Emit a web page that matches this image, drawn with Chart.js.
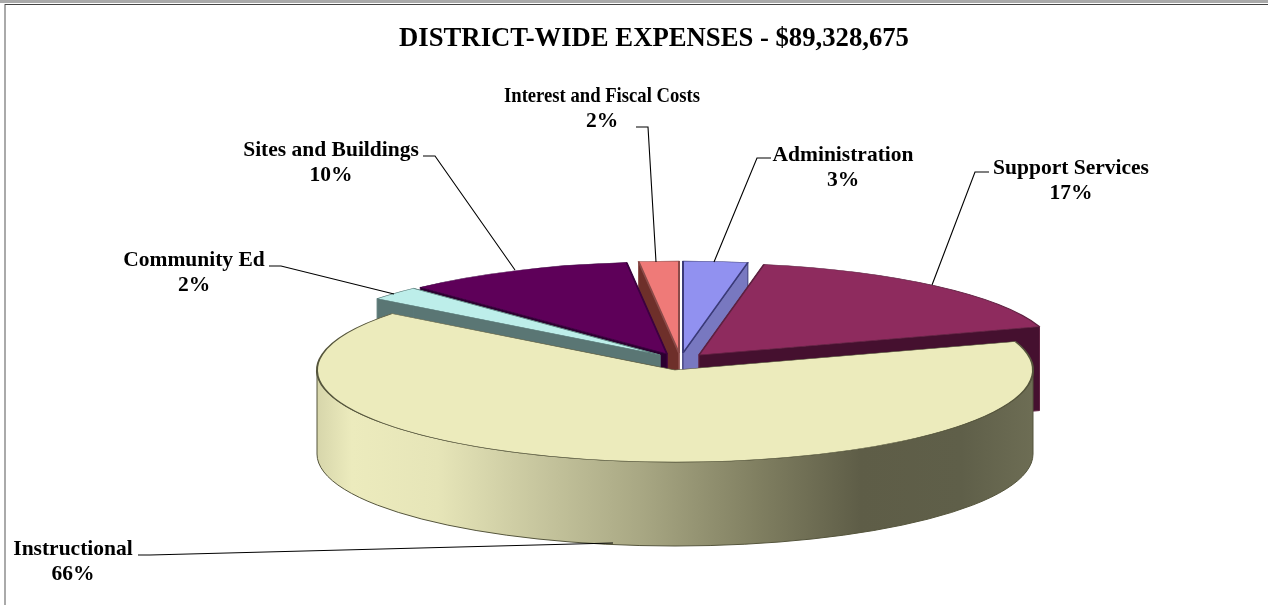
<!DOCTYPE html>
<html><head><meta charset="utf-8">
<style>html,body{margin:0;padding:0;background:#fff}canvas{display:block}</style>
<script src="https://cdn.jsdelivr.net/npm/chart.js@4/dist/chart.umd.min.js"></script>
</head><body><canvas id="c" width="1268" height="605"></canvas>
<script>
const titleText = 'DISTRICT-WIDE EXPENSES - $89,328,675';
const categories = ['Administration','Support Services','Instructional','Community Ed','Sites and Buildings','Interest and Fiscal Costs'];
const shares = [2.9,17.1,65.5,2.4,10.3,1.8];
const faceColors = ['#9191f0','#8e2b5e','#ecebbc','#bdeeea','#5e0059','#ef7a78'];
const wallColors = ['#7878c0','#45102f','#ecebbc','#5a7674','#2c0030','#6e2f2a'];
const edgeColors = ['#3a3a78','#5e2040','#55553c','#5a7a78','#3c0040','#8a4a48'];

// 3-D presentation constants (tilted ellipse, exploded slice hubs)
const RX = 358, RY = 92, DEPTH = 84;
const hubX = [683,699,675,660,667,679];
const hubY = [353,355,370,355,354,353];
const drawOrder = [5,0,1,4,3,2];
const labelCenterX = [843,1071,73,194,331,602];
const labelY = [155,168,549,260,150,96];
const labelMaxW = [142,157,121,143,179,196];
const leaders = [
  [[771,158],[757,158],[714,262]],
  [[989,172],[975,172],[932,285]],
  [[138,555],[150,555],[613,543]],
  [[269,266],[281,266],[394,294]],
  [[423,156],[435,156],[515,270]],
  [[636,127],[648,127],[656,262]]
];

const pie3d = {
  id:'pie3d',
  beforeDatasetsDraw(chart){
    const ctx = chart.ctx, arcs = chart.getDatasetMeta(0).data;
    const wallGrad = ctx.createLinearGradient(316,0,1033,0);
    [[0,'#d6d5aa'],[0.05,'#ecebbd'],[0.17,'#e6e5b8'],[0.30,'#c9c8a0'],[0.45,'#a9a884'],[0.62,'#7f7e60'],[0.76,'#5e5d47'],[0.90,'#5f5f49'],[1,'#6d6d54']]
      .forEach(s=>wallGrad.addColorStop(s[0],s[1]));
    drawOrder.forEach(i=>{
      const a = arcs[i], cx = hubX[i], cy = hubY[i];
      const s = a.startAngle, e = a.endAngle;
      const fill = i===2 ? wallGrad : wallColors[i];
      ctx.save();
      ctx.strokeStyle = edgeColors[i]; ctx.lineWidth = 1; ctx.lineJoin='round';
      // straight cut faces
      if(i!==2){
        [s,e].forEach(t=>{
          const px = cx+RX*Math.cos(t), py = cy+RY*Math.sin(t);
          ctx.beginPath();
          ctx.moveTo(cx,cy); ctx.lineTo(px,py); ctx.lineTo(px,py+DEPTH); ctx.lineTo(cx,cy+DEPTH); ctx.closePath();
          ctx.fillStyle = fill; ctx.fill(); ctx.stroke();
        });
      }
      // outer rim (only the part that faces the viewer)
      const a0 = Math.max(s,0), a1 = Math.min(e,Math.PI);
      if(a1>a0){
        ctx.beginPath();
        ctx.ellipse(cx,cy,RX,RY,0,a0,a1);
        ctx.ellipse(cx,cy+DEPTH,RX,RY,0,a1,a0,true);
        ctx.closePath();
        ctx.fillStyle = fill; ctx.fill(); ctx.stroke();
      }
      // top face: the library's own arc element, tilted
      ctx.translate(cx,cy);
      ctx.scale(RX/a.outerRadius,RY/a.outerRadius);
      ctx.translate(-a.x,-a.y);
      a.draw(ctx);
      ctx.restore();
    });
    // leader lines and labels
    ctx.save();
    ctx.strokeStyle='#000'; ctx.lineWidth=1.1;
    leaders.forEach(l=>{
      ctx.beginPath();
      l.forEach((p,k)=>k?ctx.lineTo(p[0],p[1]):ctx.moveTo(p[0],p[1]));
      ctx.stroke();
    });
    ctx.fillStyle='#000';
    ctx.font='bold 21.5px "Liberation Serif"';
    ctx.textAlign='center'; ctx.textBaseline='middle';
    categories.forEach((c,i)=>{
      ctx.fillText(c,labelCenterX[i],labelY[i],labelMaxW[i]);
      ctx.fillText(Math.round(shares[i])+'%',labelCenterX[i],labelY[i]+25);
    });
    ctx.restore();
    return false;
  },
  beforeDraw(chart){
    const ctx = chart.ctx;
    ctx.save();
    ctx.fillStyle='#fff'; ctx.fillRect(0,0,1268,605);
    ctx.fillStyle='#aaaaaa'; ctx.fillRect(0,0,1268,3); ctx.fillRect(4,4,2,601);
    ctx.fillStyle='#444'; ctx.fillRect(5,4,1263,1);
    ctx.restore();
  }
};

new Chart(document.getElementById('c'),{
  type:'pie',
  data:{labels:categories,datasets:[{data:shares,backgroundColor:faceColors,borderColor:edgeColors,borderWidth:1.5}]},
  options:{
    responsive:false,animation:false,events:[],
    layout:{padding:{left:40}},
    plugins:{
      legend:{display:false},tooltip:{enabled:false},
      title:{display:true,text:titleText,fullSize:false,color:'#000',
        font:{family:'"Liberation Serif"',size:26.7,weight:'bold'},padding:{top:23,bottom:10}}
    }
  },
  plugins:[pie3d]
});
</script></body></html>
